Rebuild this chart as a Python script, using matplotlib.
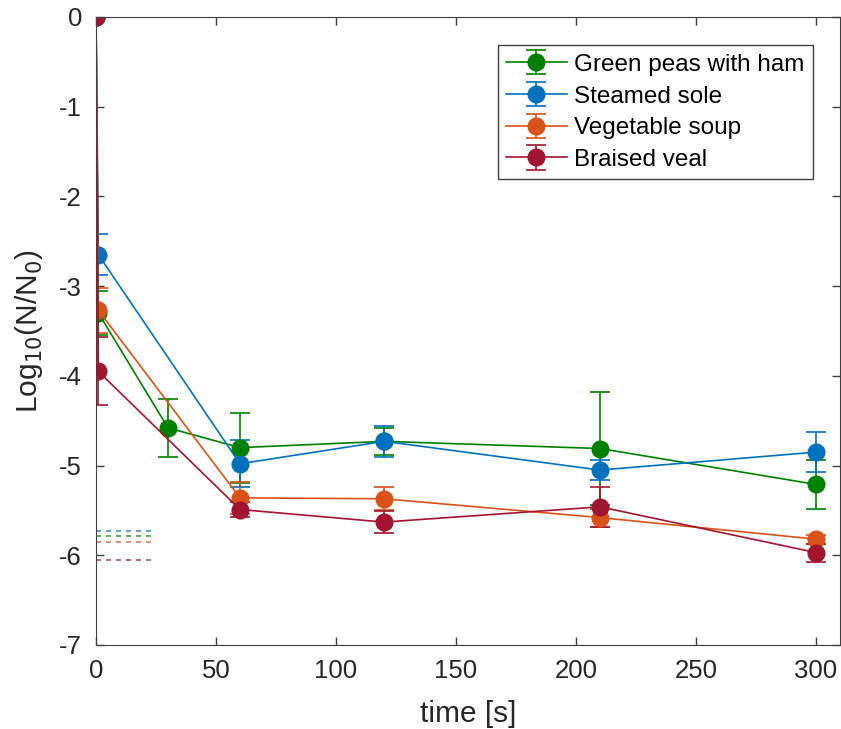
import matplotlib.pyplot as plt

plt.rcParams["font.family"] = ["Liberation Sans", "DejaVu Sans"]
plt.rcParams["axes.unicode_minus"] = False

# sampling times [s]
t_green = [0, 1, 30, 60, 120, 210, 300]
t_other = [0, 1, 60, 120, 210, 300]

green_y = [0, -3.30, -4.58, -4.80, -4.73, -4.81, -5.21]
green_err = [0, 0.25, 0.32, 0.39, 0.15, 0.63, 0.27]

blue_y = [0, -2.65, -4.98, -4.73, -5.05, -4.85]
blue_err = [0, 0.23, 0.26, 0.17, 0.11, 0.22]

orange_y = [0, -3.27, -5.36, -5.37, -5.58, -5.82]
orange_err = [0, 0.25, 0.18, 0.13, 0.10, 0.05]

red_y = [0, -3.95, -5.49, -5.63, -5.46, -5.97]
red_err = [0, 0.38, 0.08, 0.12, 0.22, 0.10]

# detection limits (green, blue, orange, red)
limit_levels = [-5.79, -5.73, -5.85, -6.05]
limit_end = 23

labels = ["Green peas with ham", "Steamed sole", "Vegetable soup", "Braised veal"]
colors = ["#008000", "#0072BD", "#D95319", "#A2142F"]

fig = plt.figure(figsize=(8.41, 7.29), dpi=100)
ax = fig.add_axes([96 / 841, 1 - 645 / 729, (840 - 96) / 841, (645 - 17) / 729])

series = [
    (t_green, green_y, green_err),
    (t_other, blue_y, blue_err),
    (t_other, orange_y, orange_err),
    (t_other, red_y, red_err),
]

for (t, y, e), lab, c in zip(series, labels, colors):
    ax.errorbar(t, y, yerr=e, color=c, marker="o", markersize=12, linewidth=1.2,
                elinewidth=1.2, capsize=7, capthick=1.2, label=lab)

# dashed detection-limit lines
for lvl, c in zip(limit_levels, colors):
    ax.hlines(lvl, 0, limit_end, colors=c, linestyles=(0, (3, 3)), linewidth=1.2, alpha=0.75)

ax.set_xlim(0, 310)
ax.set_ylim(-7, 0)
ax.set_xticks([0, 50, 100, 150, 200, 250, 300])
ax.set_yticks(range(-7, 1))
ax.tick_params(labelsize=18.5, direction="in", length=6, width=1, pad=10,
               top=True, right=True, color="#404040", labelcolor="#262626")
for s in ax.spines.values():
    s.set_color("#404040")
ax.set_xlabel("time [s]", fontsize=21.5, color="#262626", labelpad=12)
ax.set_ylabel("Log$_{10}$(N/N$_0$)", fontsize=21.5, color="#262626", labelpad=10)

leg = ax.legend(loc="upper right", bbox_to_anchor=(0.9637, 0.955), fontsize=17.5,
                fancybox=False, edgecolor="#404040", framealpha=1,
                handlelength=2.5, borderpad=0.35, labelspacing=0.4, handletextpad=0.3,
                borderaxespad=0)
leg.get_frame().set_linewidth(1.0)

fig.savefig("out.png", dpi=100)
